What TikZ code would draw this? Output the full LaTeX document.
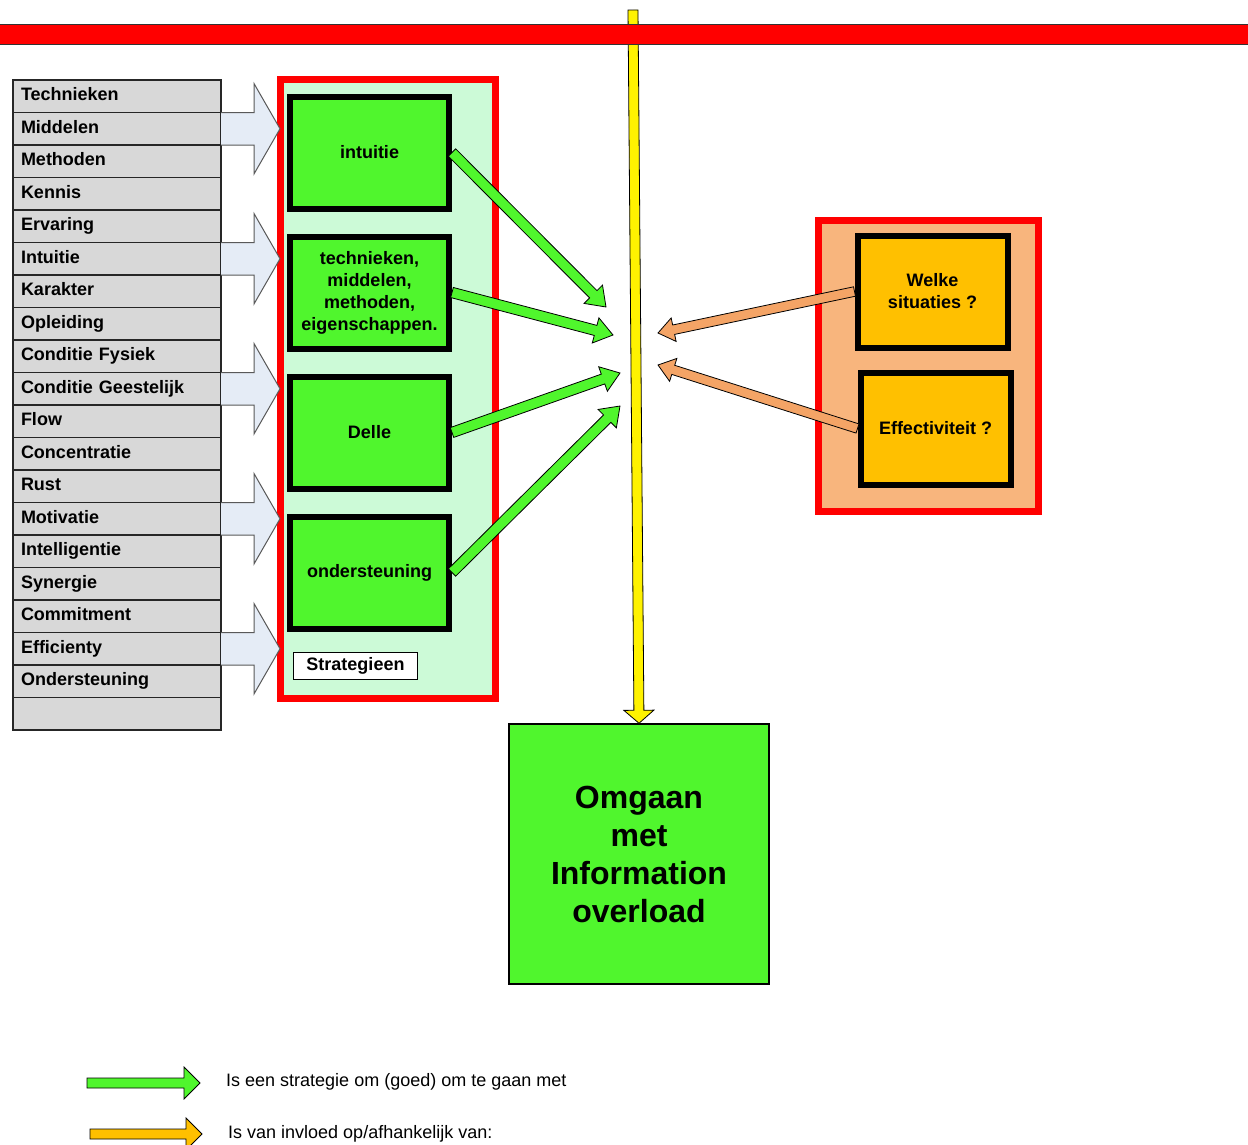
\documentclass[tikz,border=0pt]{standalone}
\usepackage{fontspec}
\setmainfont{Liberation Sans}
\usetikzlibrary{positioning, calc}

\definecolor{listgray}{RGB}{216,216,216}
\definecolor{blockfill}{RGB}{229,236,246}
\definecolor{boxgreen}{RGB}{80,246,45}
\definecolor{stratbg}{RGB}{204,250,215}
\definecolor{impactbg}{RGB}{248,181,125}
\definecolor{impactbox}{RGB}{255,192,0}
\definecolor{sandarrow}{RGB}{244,164,102}

% fat outlined arrow: options, from, to, shaft half width, head half width, head length
\newcommand{\fatarrow}[6]{%
  \coordinate (fatbase) at ($(#3)!#6!(#2)$);
  \draw[#1] ($(#2)!#4!90:(#3)$) -- ($(fatbase)!#4!90:(#3)$) -- ($(fatbase)!#5!90:(#3)$) -- (#3)
    -- ($(fatbase)!#5!-90:(#3)$) -- ($(fatbase)!#4!-90:(#3)$) -- ($(#2)!#4!-90:(#3)$) -- cycle;}

\begin{document}
\begin{tikzpicture}[x=1pt, y=-1pt, node distance=0pt]
                \tikzstyle{item} = [rectangle, draw=black!85, line width=1.5pt, outer sep=0pt, fill=listgray, minimum width=208pt, minimum height=32.5pt, text width=192pt, text height=13pt, text depth=4pt, inner xsep=8pt, align=left, font=\fontsize{18}{22}\selectfont\bfseries]
                \tikzstyle{blockarrow} = [fill=blockfill, draw=gray!70!black, line width=1pt, line join=miter]
                \tikzstyle{panel} = [rectangle, draw=red, line width=7pt, outer sep=0pt]
                \tikzstyle{strat} = [rectangle, draw, line width=6pt, fill=boxgreen, minimum width=159pt, minimum height=112pt, align=center, font=\fontsize{18}{22}\selectfont\bfseries]
                \tikzstyle{impact} = [rectangle, draw, line width=6pt, fill=impactbox, minimum width=150pt, minimum height=112pt, align=center, font=\fontsize{18}{22}\selectfont\bfseries]
                \tikzstyle{greenarrow} = [fill=boxgreen, draw=black, line width=0.8pt, line join=miter]
                \tikzstyle{sandyarrow} = [fill=sandarrow, draw=black, line width=0.8pt, line join=miter]
                \tikzstyle{legend} = [anchor=west, inner sep=0pt, font=\fontsize{18}{22}\selectfont]

                \useasboundingbox (0,0) rectangle (1248,1144);

                % Left column (factors)
                \node[item] (technieken) at (117,96.25) {Technieken};
                \node[item] (middelen) [below=of technieken] {Middelen};
                \node[item] (methoden) [below=of middelen] {Methoden};
                \node[item] (kennis) [below=of methoden] {Kennis};
                \node[item] (ervaring) [below=of kennis] {Ervaring};
                \node[item] (intuitie_l) [below=of ervaring] {Intuitie};
                \node[item] (karakter) [below=of intuitie_l] {Karakter};
                \node[item] (opleiding) [below=of karakter] {Opleiding};
                \node[item] (fysiek) [below=of opleiding] {Conditie Fysiek};
                \node[item] (geestelijk) [below=of fysiek] {Conditie Geestelijk};
                \node[item] (flow) [below=of geestelijk] {Flow};
                \node[item] (concentratie) [below=of flow] {Concentratie};
                \node[item] (rust) [below=of concentratie] {Rust};
                \node[item] (motivatie) [below=of rust] {Motivatie};
                \node[item] (intelligentie) [below=of motivatie] {Intelligentie};
                \node[item] (synergie) [below=of intelligentie] {Synergie};
                \node[item] (commitment) [below=of synergie] {Commitment};
                \node[item] (efficienty) [below=of commitment] {Efficienty};
                \node[item] (ondersteuning_l) [below=of efficienty] {Ondersteuning};
                \node[item] (leeg) [below=of ondersteuning_l] {};

                % Middle column (strategies)
                \node[panel, fill=stratbg, minimum width=215pt, minimum height=619pt] (strat_panel) at (387.5,388.5) {};
                \node[strat] (intuitie) at (369.5,152.5) {intuitie};
                \node[strat] (technieken_s) [below=22pt of intuitie] {technieken,\\middelen,\\methoden,\\eigenschappen.};
                \node[strat] (delle) [below=22pt of technieken_s] {Delle};
                \node[strat] (ondersteuning) [below=22pt of delle] {ondersteuning};
                \node[draw, line width=1pt, fill=white, minimum width=124pt, minimum height=27pt, inner sep=2pt, font=\fontsize{18}{22}\selectfont\bfseries] (strategieen) [below right=20pt and 6pt of ondersteuning.south west, anchor=north west] {Strategieen};

                % Block arrows into the strategies
                \draw[blockarrow] (middelen.north east) -- ++(33,0) -- ++(0,-29) -- (strat_panel.west |- middelen.east) -- ($(middelen.south east)+(33,29)$) -- ++(0,-29) -- (middelen.south east);
                \draw[blockarrow] (intuitie_l.north east) -- ++(33,0) -- ++(0,-29) -- (strat_panel.west |- intuitie_l.east) -- ($(intuitie_l.south east)+(33,29)$) -- ++(0,-29) -- (intuitie_l.south east);
                \draw[blockarrow] (geestelijk.north east) -- ++(33,0) -- ++(0,-29) -- (strat_panel.west |- geestelijk.east) -- ($(geestelijk.south east)+(33,29)$) -- ++(0,-29) -- (geestelijk.south east);
                \draw[blockarrow] (motivatie.north east) -- ++(33,0) -- ++(0,-29) -- (strat_panel.west |- motivatie.east) -- ($(motivatie.south east)+(33,29)$) -- ++(0,-29) -- (motivatie.south east);
                \draw[blockarrow] (efficienty.north east) -- ++(33,0) -- ++(0,-29) -- (strat_panel.west |- efficienty.east) -- ($(efficienty.south east)+(33,29)$) -- ++(0,-29) -- (efficienty.south east);

                % Right column (influences)
                \node[panel, fill=impactbg, minimum width=220pt, minimum height=291pt] (impact_panel) at (928,365.5) {};
                \node[impact] (welke) at (932.5,291.5) {Welke\\situaties ?};
                \node[impact] (effectiviteit) at (935.5,428.5) {Effectiviteit ?};

                % Goal
                \node[draw, line width=1.5pt, fill=boxgreen, minimum width=260pt, minimum height=260pt, align=center, font=\fontsize{32}{38}\selectfont\bfseries] (omgaan) at (639,854) {Omgaan\\met\\Information\\overload};

                % Yellow line and red bar
                \coordinate (yellow_top) at (633,10);
                \fatarrow{fill=yellow, draw=black, line width=0.8pt, line join=miter}{yellow_top}{omgaan.north}{5pt}{15pt}{13pt}
                \draw[fill=red, draw=black!80, line width=1pt] (-5,24) rectangle (1253,44);

                % Arrows
                \coordinate (tip1) at (606,307);
                \coordinate (tip2) at (613,335);
                \coordinate (tip3) at (620,373);
                \coordinate (tip4) at (620,406);
                \coordinate (tip5) at (658,333);
                \coordinate (tip6) at (658,365);
                \fatarrow{greenarrow}{intuitie.east}{tip1}{5.2pt}{13pt}{18pt}
                \fatarrow{greenarrow}{technieken_s.east}{tip2}{5.2pt}{13pt}{18pt}
                \fatarrow{greenarrow}{delle.east}{tip3}{5.2pt}{13pt}{18pt}
                \fatarrow{greenarrow}{ondersteuning.east}{tip4}{5.2pt}{13pt}{18pt}
                \fatarrow{sandyarrow}{welke.west}{tip5}{4.8pt}{12pt}{16pt}
                \fatarrow{sandyarrow}{effectiviteit.west}{tip6}{4.8pt}{12pt}{16pt}

                % Legend
                \node[legend] (legend_green) at (226,1082) {Is een strategie om (goed) om te gaan met};
                \node[legend] (legend_orange) at (228,1134) {Is van invloed op/afhankelijk van:};
                \coordinate (lg_start) at (87,1083);
                \coordinate (lg_tip) at (200,1083);
                \coordinate (lo_start) at (90,1134);
                \coordinate (lo_tip) at (202,1134);
                \fatarrow{greenarrow}{lg_start}{lg_tip}{5pt}{16pt}{16pt}
                \fatarrow{fill=impactbox, draw=black, line width=0.8pt, line join=miter}{lo_start}{lo_tip}{5pt}{16pt}{16pt}
            \end{tikzpicture}
\end{document}
